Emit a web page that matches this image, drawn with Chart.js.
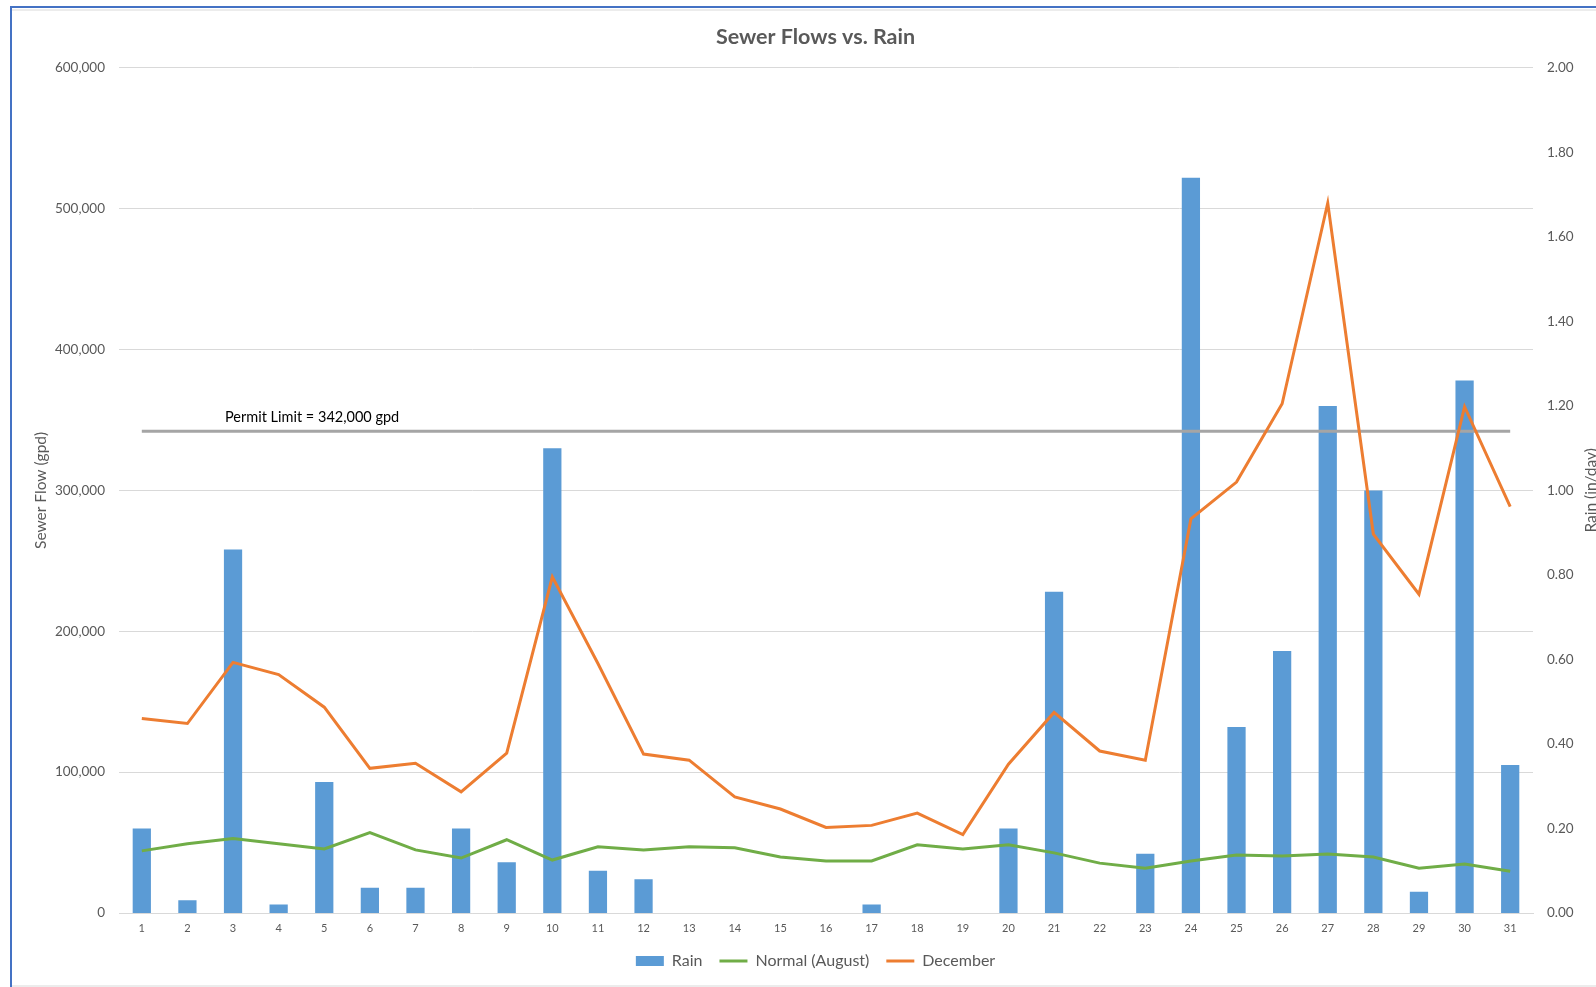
<!DOCTYPE html>
<html>
<head>
<meta charset="utf-8">
<script src="https://cdn.jsdelivr.net/npm/chart.js@4/dist/chart.umd.min.js"></script>
<style>
    html, body { margin: 0; padding: 0; background: #fff; overflow: hidden; width: 1596px; height: 987px; }
    .frame { position: absolute; left: 10px; top: 6px; width: 1700px; height: 1000px; border-left: 2px solid #4472c4; border-top: 2px solid #4472c4; }
    .inner { position: absolute; left: 12px; top: 9px; width: 1700px; height: 974px; border-top: 2px solid #ececec; border-bottom: 2px solid #ececec; }
    .wrap { position: absolute; left: 12px; top: 11px; width: 1604px; height: 972px; }
</style>
</head>
<body>
<div class="frame"></div>
<div class="inner"></div>
<div class="wrap"><canvas id="flowChart"></canvas></div>
<script>
const days = ["1", "2", "3", "4", "5", "6", "7", "8", "9", "10", "11", "12", "13", "14", "15", "16",
    "17", "18", "19", "20", "21", "22", "23", "24", "25", "26", "27", "28", "29", "30", "31"];

// rain, in/day (right axis)
const rain = [0.20, 0.03, 0.86, 0.02, 0.31, 0.06, 0.06, 0.20, 0.12, 1.10, 0.10, 0.08, 0, 0, 0, 0,
    0.02, 0, 0, 0.20, 0.76, 0, 0.14, 1.74, 0.44, 0.62, 1.20, 1.00, 0.05, 1.26, 0.35];

// sewer flow, gpd (left axis)
const normalAugust = [44100, 49200, 52800, 49200, 45500, 57100, 44800, 39000, 52000, 37600, 47000,
    44800, 47000, 46300, 39800, 36900, 36900, 48400, 45500, 48400, 42700, 35400, 31800, 36900,
    41200, 40500, 41900, 39800, 31800, 34700, 29600];

const december = [138100, 134500, 177900, 169200, 146100, 102700, 106300, 86000, 113500, 238600,
    177100, 112800, 108500, 82400, 73800, 60700, 62200, 70900, 55700, 105600, 142400, 115000,
    108500, 279800, 305900, 361500, 504000, 269000, 226300, 359400, 288500];

const permitLimit = 342000;
const permitLabel = "Permit Limit = 342,000 gpd";
const rainTitle = "Rain (in/day)";

const FONT = "Lato, \"Open Sans\", sans-serif";
const GREY_TEXT = "#595959";
const GRID = "#d9d9d9";

// permit label above the limit line, and the right axis title read bottom-to-top like Excel
const annotations = {
    id: "annotations",
    afterDatasetsDraw(chart) {
        const x = chart.scales.x;
        const y = chart.scales.y;
        const y1 = chart.scales.y1;
        const ctx = chart.ctx;
        ctx.save();
        ctx.font = "14.5px " + FONT;
        ctx.fillStyle = "#000";
        ctx.textAlign = "left";
        ctx.textBaseline = "middle";
        ctx.fillText(permitLabel, x.getPixelForValue(2) - 8, y.getPixelForValue(permitLimit) - 14);

        ctx.translate(y1.right - 12, (y1.top + y1.bottom) / 2);
        ctx.rotate(-Math.PI / 2);
        ctx.font = "15.5px " + FONT;
        ctx.fillStyle = GREY_TEXT;
        ctx.textAlign = "center";
        ctx.fillText(rainTitle, 0, 0);
        ctx.restore();
    }
};

new Chart(document.getElementById("flowChart"), {
    data: {
        labels: days,
        datasets: [
            {
                type: "bar",
                label: "Rain",
                data: rain,
                yAxisID: "y1",
                backgroundColor: "#5b9bd5",
                borderWidth: 0,
                pointStyle: "rect",
                categoryPercentage: 1,
                barPercentage: 0.4,
                order: 3
            },
            {
                type: "line",
                label: "Normal (August)",
                data: normalAugust,
                yAxisID: "y",
                borderColor: "#70ad47",
                backgroundColor: "#70ad47",
                borderWidth: 3,
                pointRadius: 0,
                pointStyle: "line",
                tension: 0,
                order: 1
            },
            {
                type: "line",
                label: "December",
                data: december,
                yAxisID: "y",
                borderColor: "#ed7d31",
                backgroundColor: "#ed7d31",
                borderWidth: 3,
                pointRadius: 0,
                pointStyle: "line",
                tension: 0,
                order: 0
            },
            {
                type: "line",
                label: "Permit",
                data: days.map(() => permitLimit),
                yAxisID: "y",
                borderColor: "#a5a5a5",
                borderWidth: 3,
                pointRadius: 0,
                order: 2
            }
        ]
    },
    plugins: [annotations],
    options: {
        responsive: true,
        maintainAspectRatio: false,
        animation: false,
        layout: { padding: { top: 4, left: 16, right: 13, bottom: 4 } },
        plugins: {
            title: {
                display: true,
                text: "Sewer Flows vs. Rain",
                color: GREY_TEXT,
                font: { family: FONT, size: 21.5, weight: "bold" },
                padding: { top: 9, bottom: 18 }
            },
            legend: {
                position: "bottom",
                labels: {
                    color: GREY_TEXT,
                    font: { family: FONT, size: 16 },
                    usePointStyle: true,
                    pointStyleWidth: 28,
                    boxHeight: 10,
                    padding: 17,
                    filter: item => item.text !== "Permit",
                    sort: (a, b) => a.datasetIndex - b.datasetIndex
                }
            },
            tooltip: { enabled: false }
        },
        scales: {
            x: {
                grid: { display: false, drawTicks: false },
                border: { color: GRID, width: 1 },
                ticks: { color: GREY_TEXT, font: { family: FONT, size: 11 }, padding: 9, maxRotation: 0, autoSkip: false },
                afterFit: scale => { scale.height = 23; }
            },
            y: {
                position: "left",
                min: 0,
                max: 600000,
                grid: { color: GRID, drawTicks: false },
                border: { display: false },
                ticks: {
                    stepSize: 100000,
                    color: GREY_TEXT,
                    font: { family: FONT, size: 13.5 },
                    padding: 14,
                    callback: v => v.toLocaleString("en-US")
                },
                title: {
                    display: true,
                    text: "Sewer Flow (gpd)",
                    color: GREY_TEXT,
                    font: { family: FONT, size: 15.5 }
                },
                afterFit: scale => { scale.width = 91; }
            },
            y1: {
                position: "right",
                min: 0,
                max: 2,
                grid: { display: false, drawTicks: false },
                border: { display: false },
                ticks: {
                    stepSize: 0.2,
                    color: GREY_TEXT,
                    font: { family: FONT, size: 13.5 },
                    padding: 14,
                    callback: v => v.toFixed(2)
                },
                afterFit: scale => { scale.width = 70; }
            }
        }
    }
});
</script>
</body>
</html>
